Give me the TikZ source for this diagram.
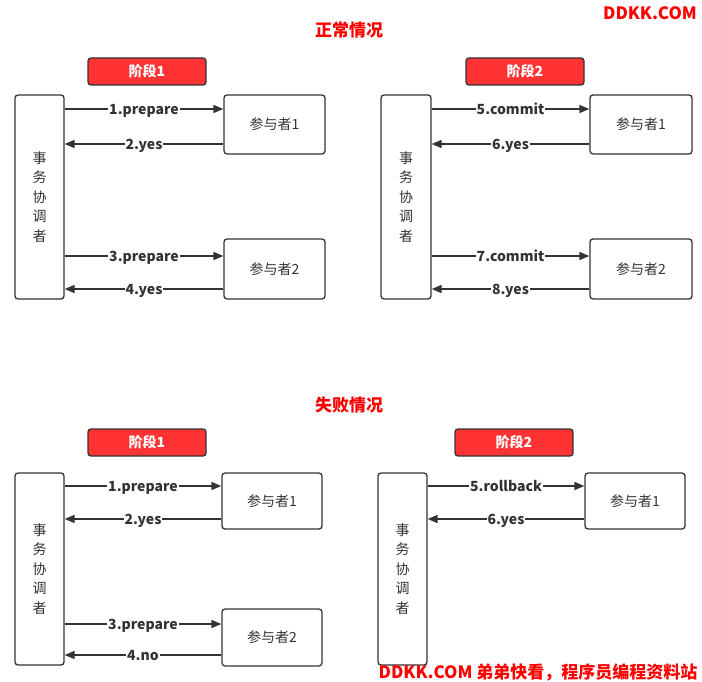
\documentclass[tikz,border=0pt]{standalone}
\usepackage{fontspec}
\setmainfont{Noto Sans CJK SC}
\usetikzlibrary{arrows.meta}
\definecolor{ink}{HTML}{333333}
\definecolor{phasered}{HTML}{FF3333}
\definecolor{titlered}{HTML}{FF0000}
\begin{document}
\begin{tikzpicture}[x=1bp,y=-1bp,
  box/.style={draw=ink, line width=1.3bp, rounded corners=3bp, fill=white, inner sep=0pt,
    text=ink, font=\fontsize{14bp}{16bp}\selectfont},
  coord/.style={box, align=center, font=\fontsize{14bp}{19.5bp}\selectfont},
  phase/.style={draw=ink, line width=1.3bp, rounded corners=3bp, fill=phasered, inner sep=0pt,
    text=white, font=\bfseries\fontsize{14bp}{16bp}\selectfont, minimum width=118bp, minimum height=27bp},
  arr/.style={draw=ink, line width=1.5bp, -{Triangle[length=10bp,width=8bp]}},
  lbl/.style={fill=white, text=ink, inner sep=1bp, anchor=base, yshift=-5.5bp,
    font=\bfseries\fontsize{14bp}{16bp}\selectfont},
  ttl/.style={text=titlered, inner sep=0pt, font=\bfseries\fontsize{17bp}{19bp}\selectfont}]
\useasboundingbox (0,0) rectangle (702,682);

% titles
\node[ttl] (t1) at (349,30) {正常情况};
\node[ttl] (t2) at (349,405) {失败情况};
\node[ttl] (wm) at (650,13) {DDKK.COM};

% ---------- top-left ----------
\node[phase] (ph1) at (147,71.5) {阶段1};
\node[coord, minimum width=49bp, minimum height=204bp] (c1) at (39.5,197) {事\\务\\协\\调\\者};
\node[box, minimum width=101bp, minimum height=59bp] (p1) at (274.5,124.5) {参与者1};
\node[box, minimum width=101bp, minimum height=60bp] (p2) at (274.5,269) {参与者2};
\draw[arr] (c1.east |- 0,109) -- (p1.west |- 0,109) node[midway,lbl] (l1) {1.prepare};
\draw[arr] (p1.west |- 0,144) -- (c1.east |- 0,144) node[midway,lbl] (l2) {2.yes};
\draw[arr] (c1.east |- 0,256) -- (p2.west |- 0,256) node[midway,lbl] (l3) {3.prepare};
\draw[arr] (p2.west |- 0,289) -- (c1.east |- 0,289) node[midway,lbl] (l4) {4.yes};

% ---------- top-right ----------
\node[phase] (ph2) at (525,71.5) {阶段2};
\node[coord, minimum width=50bp, minimum height=204bp] (c2) at (406,197) {事\\务\\协\\调\\者};
\node[box, minimum width=102bp, minimum height=59bp] (p3) at (641,124.5) {参与者1};
\node[box, minimum width=102bp, minimum height=60bp] (p4) at (641,269) {参与者2};
\draw[arr] (c2.east |- 0,109) -- (p3.west |- 0,109) node[midway,lbl] (l5) {5.commit};
\draw[arr] (p3.west |- 0,144) -- (c2.east |- 0,144) node[midway,lbl] (l6) {6.yes};
\draw[arr] (c2.east |- 0,256) -- (p4.west |- 0,256) node[midway,lbl] (l7) {7.commit};
\draw[arr] (p4.west |- 0,289) -- (c2.east |- 0,289) node[midway,lbl] (l8) {8.yes};

% ---------- bottom-left ----------
\node[phase] (ph3) at (147,442.5) {阶段1};
\node[coord, minimum width=49bp, minimum height=192bp] (c3) at (39.5,569) {事\\务\\协\\调\\者};
\node[box, minimum width=100bp, minimum height=56bp] (p5) at (272,501) {参与者1};
\node[box, minimum width=100bp, minimum height=57bp] (p6) at (272,637.5) {参与者2};
\draw[arr] (c3.east |- 0,486) -- (p5.west |- 0,486) node[midway,lbl] (m1) {1.prepare};
\draw[arr] (p5.west |- 0,519) -- (c3.east |- 0,519) node[midway,lbl] (m2) {2.yes};
\draw[arr] (c3.east |- 0,624) -- (p6.west |- 0,624) node[midway,lbl] (m3) {3.prepare};
\draw[arr] (p6.west |- 0,655) -- (c3.east |- 0,655) node[midway,lbl] (m4) {4.no};

% ---------- bottom-right ----------
\node[phase] (ph4) at (514,442.5) {阶段2};
\node[coord, minimum width=49bp, minimum height=192bp] (c4) at (402.5,569) {事\\务\\协\\调\\者};
\node[box, minimum width=100bp, minimum height=56bp] (p7) at (635,501) {参与者1};
\draw[arr] (c4.east |- 0,486) -- (p7.west |- 0,486) node[midway,lbl] (m5) {5.rollback};
\draw[arr] (p7.west |- 0,519) -- (c4.east |- 0,519) node[midway,lbl] (m6) {6.yes};

% footer
\node[ttl] (ft) at (538,672) {DDKK.COM 弟弟快看，程序员编程资料站};
\end{tikzpicture}
\end{document}
